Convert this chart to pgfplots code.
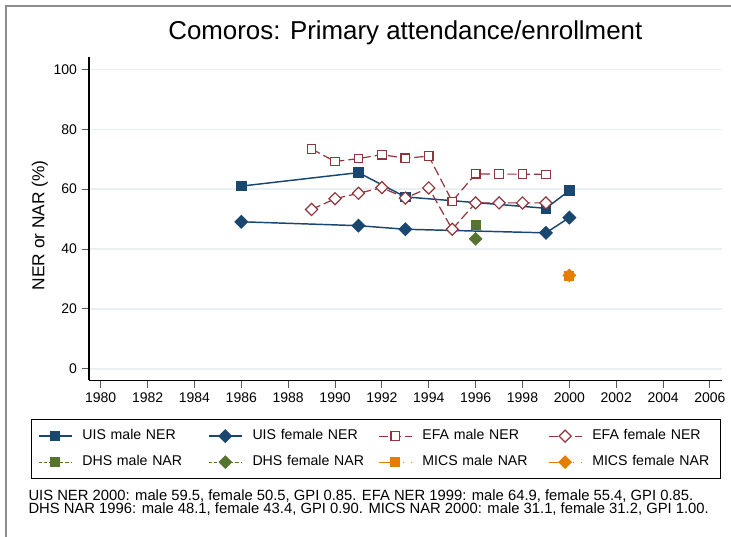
\documentclass[border=0pt]{standalone}
\usepackage{fontspec}
\setmainfont{Liberation Sans}
\usepackage{pgfplots}
\pgfplotsset{compat=1.18}

\definecolor{uis}{RGB}{26,71,111}
\definecolor{efa}{RGB}{144,53,59}
\definecolor{dhs}{RGB}{85,117,47}
\definecolor{mics}{RGB}{227,126,0}
\definecolor{gridc}{RGB}{232,240,243}

% 1 px of the reference = 0.75pt; y runs downward from the top edge
\begin{document}
\begin{tikzpicture}
\useasboundingbox (0pt,0pt) rectangle (548.25pt,-402pt);
\draw[black!45, line width=0.9pt] (4.5pt,-405pt) -- (4.5pt,-4.5pt) -- (551pt,-4.5pt);
\begin{axis}[
  at={(66.75pt,-285.2pt)}, anchor=south west,
  scale only axis, width=474.5pt, height=242.25pt,
  xmin=1979.5, xmax=2006.5, ymin=-3.8, ymax=104,
  axis lines=left, axis line style={-, black, line width=0.8pt},
  xtick={1980,1982,...,2006}, ytick={0,20,...,100},
  tick align=outside, major tick length=5.5pt,
  tick style={black!65, line width=0.8pt},
  ymajorgrids, grid style={gridc, line width=1pt},
  /pgf/number format/assume math mode=true,
  /pgf/number format/1000 sep={},
  ticklabel style={font=\fontsize{10.5}{12}\selectfont},
  ylabel={NER or NAR (\%)},
  ylabel style={at={(axis description cs:-0.0775,0.48)}, anchor=center,
    font=\fontsize{13}{15}\selectfont},
  title={Comoros: Primary attendance/enrollment},
  title style={at={(axis description cs:0.5,1.0288)}, anchor=base, inner sep=0pt,
    font=\fontsize{19.4}{22}\selectfont},
  legend image code/.code={\draw[mark repeat=2,mark phase=2,#1]
    plot coordinates {(0pt,0pt) (12.375pt,0pt) (24.75pt,0pt)};},
  legend columns=4, legend cell align=left,
  legend style={at={(axis description cs:-0.0921,-0.1207)}, anchor=north west,
    draw=black, line width=0.8pt, inner xsep=5pt, inner ysep=7pt,
    font=\fontsize{10.6}{13}\selectfont,
    nodes={inner sep=0pt, text height=8pt, text depth=2.5pt, text width=91pt},
    /tikz/row sep=9pt,
    /tikz/every odd column/.append style={column sep=7.5pt},
    /tikz/every even column/.append style={column sep=3.25pt}},
]
\addplot[uis, line width=1.1pt, mark=square*, mark size=3.4pt]
  coordinates {(1986,61.0) (1991,65.5) (1993,57.4) (1999,53.6) (2000,59.5)};
\addlegendentry{UIS male NER}
\addplot[uis, line width=1.1pt, mark=square*, mark size=3.2pt, mark options={rotate=45}]
  coordinates {(1986,49.1) (1991,47.8) (1993,46.6) (1999,45.4) (2000,50.5)};
\addlegendentry{UIS female NER}
\addplot[efa, line width=0.9pt, dash pattern=on 7pt off 3pt, mark=square*,
  mark size=3.2pt, mark options={solid, fill=white}]
  coordinates {(1989,73.4) (1990,69.2) (1991,70.2) (1992,71.5) (1993,70.3) (1994,71.0)
    (1995,55.9) (1996,65.1) (1997,65.0) (1998,65.0) (1999,64.9)};
\addlegendentry{EFA male NER}
\addplot[efa, line width=0.9pt, dash pattern=on 7pt off 3pt, mark=square*,
  mark size=3.2pt, mark options={solid, fill=white, rotate=45}]
  coordinates {(1989,53.2) (1990,56.8) (1991,58.6) (1992,60.5) (1993,57.0) (1994,60.4)
    (1995,46.6) (1996,55.4) (1997,55.4) (1998,55.4) (1999,55.4)};
\addlegendentry{EFA female NER}
\addplot[dhs, line width=0.9pt, dash pattern=on 2.5pt off 1.5pt, mark=square*,
  mark size=3.4pt, mark options={solid}]
  coordinates {(1996,48.1)};
\addlegendentry{DHS male NAR}
\addplot[dhs, line width=0.9pt, dash pattern=on 2.5pt off 1.5pt, mark=square*,
  mark size=3.2pt, mark options={solid, rotate=45}]
  coordinates {(1996,43.4)};
\addlegendentry{DHS female NAR}
\addplot[mics, line width=0.9pt, dash pattern=on 13pt off 5pt on 1pt off 5pt, mark=square*,
  mark size=3.4pt, mark options={solid}]
  coordinates {(2000,31.1)};
\addlegendentry{MICS male NAR}
\addplot[mics, line width=0.9pt, dash pattern=on 13pt off 5pt on 1pt off 5pt, mark=square*,
  mark size=3.2pt, mark options={solid, rotate=45}]
  coordinates {(2000,31.2)};
\addlegendentry{MICS female NAR}
\end{axis}
\node[anchor=base west, inner sep=0pt, font=\fontsize{11.1}{12}\selectfont] at (21.2pt,-375.5pt)
  {UIS NER 2000: male 59.5, female 50.5, GPI 0.85. EFA NER 1999: male 64.9, female 55.4, GPI 0.85.};
\node[anchor=base west, inner sep=0pt, font=\fontsize{11.1}{12}\selectfont] at (21.2pt,-385.3pt)
  {DHS NAR 1996: male 48.1, female 43.4, GPI 0.90. MICS NAR 2000: male 31.1, female 31.2, GPI 1.00.};
\end{tikzpicture}
\end{document}
